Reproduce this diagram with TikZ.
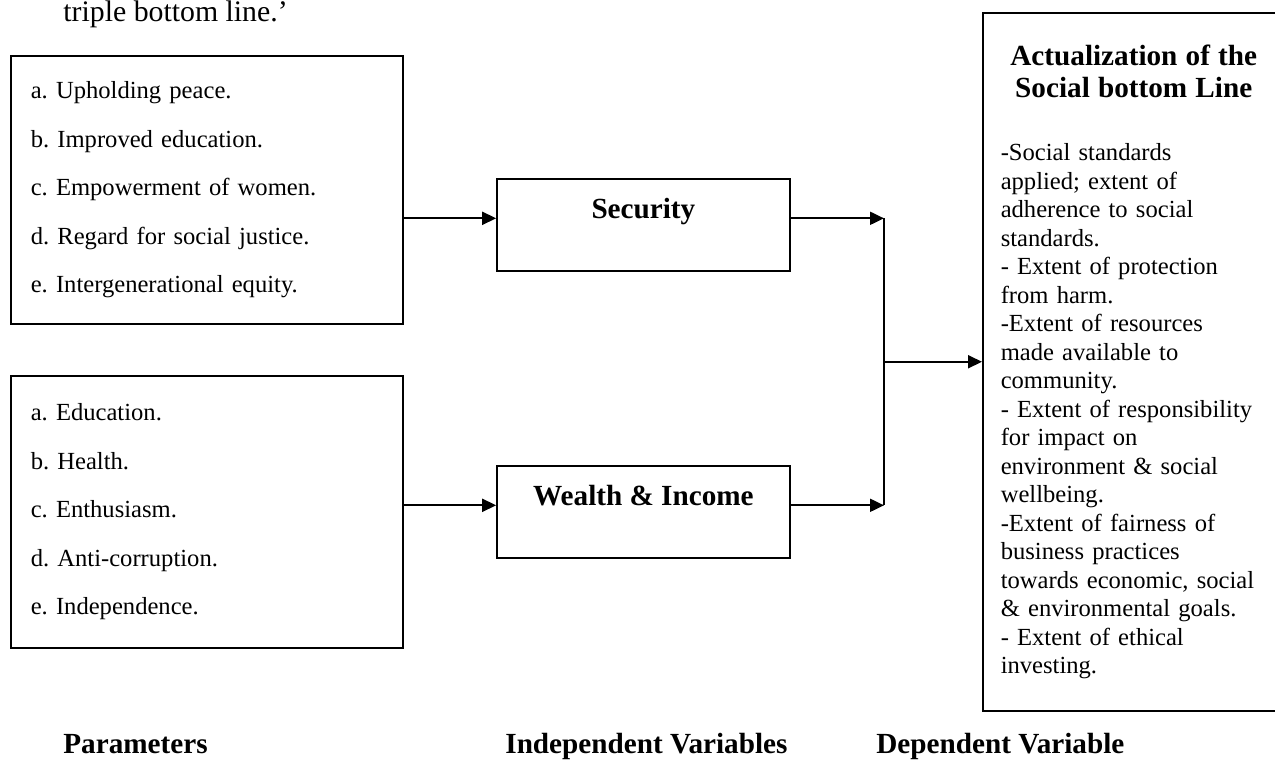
\documentclass[tikz,border=0pt]{standalone}
\usepackage{fontspec}
\setmainfont{Liberation Serif}
\usetikzlibrary{arrows.meta}
\frenchspacing

\newcommand{\bodyfont}{\fontsize{12.3}{14.25}\selectfont}
\newcommand{\listfont}{\fontsize{12.3}{24.25}\selectfont}
\newcommand{\headfont}{\fontsize{14.6}{16}\selectfont\bfseries}
\newcommand{\padbottom}[1]{\par\vspace*{#1}}

\begin{document}
\begin{tikzpicture}[x=0.5pt, y=-0.5pt,
    parambox/.style={draw, line width=0.75pt, anchor=north west, minimum width=196pt,
      text width=176pt, inner xsep=10pt, align=left, font=\listfont},
    varbox/.style={draw, line width=0.75pt, minimum width=146.5pt, minimum height=46pt,
      font=\headfont, text height=10pt, text depth=16.7pt},
    flow/.style={-{Triangle[length=7pt,width=6.5pt]}, line width=1pt},
    axislabel/.style={font=\headfont, anchor=base west, inner sep=0pt}
    ]
    \useasboundingbox (0,0) rectangle (1275,762);
    \node[anchor=base west, inner sep=0pt, font=\fontsize{14.9}{17}\selectfont] (intro) at (63,21) {triple bottom line.’};

    \node[parambox, minimum height=134pt] (par1) at (10,55)
      {a. Upholding peace.\\ b. Improved education.\\ c. Empowerment of women.\\
       d. Regard for social justice.\\ e. Intergenerational equity.\padbottom{8.4pt}};
    \node[parambox, minimum height=136pt] (par2) at (10,375)
      {a. Education.\\ b. Health.\\ c. Enthusiasm.\\ d. Anti-corruption.\\
       e. Independence.\padbottom{8.4pt}};

    \node[varbox] (sec) at (643.4,225) {Security};
    \node[varbox] (wea) at (643.4,512) {Wealth \& Income};

    \node[draw, line width=0.75pt, anchor=north west, minimum width=151pt, minimum height=349pt,
      text width=133pt, inner xsep=9pt, align=left, font=\bodyfont] (rb) at (982,12)
      {{\centering\headfont Actualization of the\\ Social bottom Line\par}\vspace{17.6pt}%
       -Social standards\\ applied; extent of\\ adherence to social\\ standards.\\
       - Extent of protection\\ from harm.\\
       -Extent of resources\\ made available to\\ community.\\
       - Extent of responsibility\\ for impact on\\ environment \& social\\ wellbeing.\\
       -Extent of fairness of\\ business practices\\ towards economic, social\\ \& environmental goals.\\
       - Extent of ethical\\ investing.\padbottom{12.2pt}};

    \coordinate (join) at (884,364);
    \draw[flow] (par1.east |- sec.base west) -- (sec.base west);
    \draw[flow] (par2.east |- wea.base west) -- (wea.base west);
    \draw[flow] (sec.base east) -- (sec.base east -| join);
    \draw[flow] (wea.base east) -- (wea.base east -| join);
    \draw[line width=1pt] (sec.base east -| join) -- (wea.base east -| join);
    \draw[flow] (join |- rb.west) -- (rb.west);

    \node[axislabel] (lpar) at (63,753) {Parameters};
    \node[axislabel] (lind) at (505,753) {Independent Variables};
    \node[axislabel] (ldep) at (876,753) {Dependent Variable};
\end{tikzpicture}
\end{document}
